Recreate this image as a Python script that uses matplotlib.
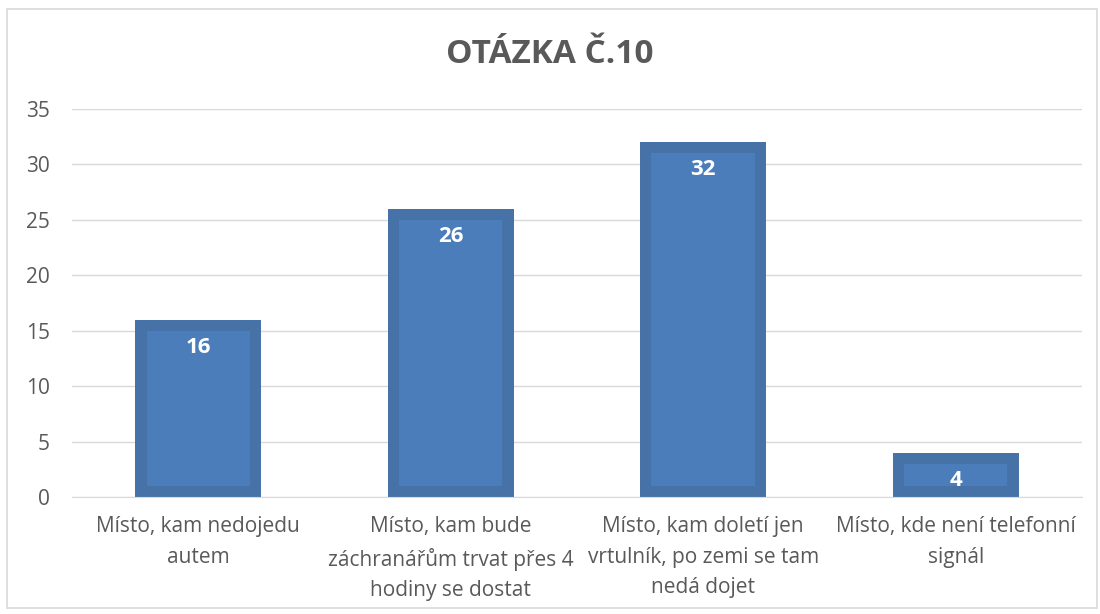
import matplotlib.pyplot as plt
from matplotlib.patches import Rectangle

categories = [
    "Místo, kam nedojedu\nautem",
    "Místo, kam bude\nzáchranářům trvat přes 4\nhodiny se dostat",
    "Místo, kam doletí jen\nvrtulník, po zemi se tam\nnedá dojet",
    "Místo, kde není telefonní\nsignál",
]
values = [16, 26, 32, 4]
yticks = [0, 5, 10, 15, 20, 25, 30, 35]

text_gray = "#595959"
grid_gray = "#D9D9D9"
outer_blue = "#4672A8"
inner_blue = "#4B7DBA"

plt.rcParams['font.family'] = ['Open Sans', 'DejaVu Sans']

fig = plt.figure(figsize=(11, 6.14), dpi=100)
ax = fig.add_axes([0.0655, 0.1906, 0.918, 0.6319])

x = list(range(len(values)))
# outer bar (darker rim) and inner lighter face
ax.bar(x, values, width=0.5, color=outer_blue, zorder=2)
ax.bar(x, [v - 2 for v in values], width=0.41, bottom=1, color=inner_blue, zorder=3)

for xi, v in zip(x, values):
    ax.text(xi, v - 2.5, str(v), ha='center', va='center', color='white',
            fontsize=16, fontweight='bold', zorder=4)

ax.set_xlim(-0.5, len(values) - 0.5)
ax.set_ylim(0, 35)
ax.set_yticks(yticks)
ax.set_xticks(x)
ax.set_xticklabels(categories, linespacing=1.57)
ax.tick_params(axis='both', length=0, colors=text_gray, labelsize=15)
ax.tick_params(axis='y', pad=16)
ax.tick_params(axis='x', pad=14)
ax.grid(axis='y', color=grid_gray, linewidth=1, zorder=0)
for s in ['top', 'right', 'left']:
    ax.spines[s].set_visible(False)
ax.spines['bottom'].set_color(grid_gray)

fig.text(0.5, 0.912, "OTÁZKA Č.10", ha='center', va='center',
         fontsize=24, fontweight='bold', color=text_gray)

fig.patches.append(Rectangle((0.0064, 0.01), 0.9909, 0.975, transform=fig.transFigure,
                             fill=False, edgecolor=grid_gray, linewidth=1.2))

fig.savefig("out.png", dpi=100)
